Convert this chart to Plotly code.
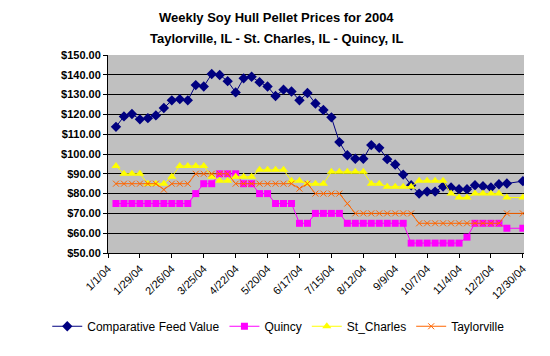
import pandas as pd
import plotly.graph_objects as go

# Weekly dates (data starts 1/8/04, axis starts 1/1/04)
dates = pd.date_range("2004-01-08", periods=52, freq="7D")

comparative_feed_value = [113.7, 119.0, 120.2, 117.5, 118.1, 119.5, 123.2, 127.1, 127.7, 127.1,
                          134.8, 134.1, 140.4, 139.9, 136.8, 131.1, 138.2, 139.0, 136.3, 134.1,
                          129.3, 132.5, 131.6, 127.1, 130.8, 125.5, 122.2, 118.5, 106.0, 99.4,
                          97.6, 97.6, 104.5, 103.1, 97.4, 94.7, 89.6, 84.2, 80.0, 81.0,
                          81.0, 83.6, 83.1, 82.2, 82.2, 84.2, 83.7, 83.1, 84.7, 85.1,
                          None, 86.3]
quincy = [75, 75, 75, 75, 75, 75, 75, 75, 75, 75,
          80, 85, 85, 90, 90, 90, 85, 85, 80, 80,
          75, 75, 75, 65, 65, 70, 70, 70, 70, 65,
          65, 65, 65, 65, 65, 65, 65, 55, 55, 55,
          55, 55, 55, 55, 58, 65, 65, 65, 65, 62.5,
          None, 62.5]
st_charles = [94, 90, 90, 90, 85, 85, 85, 88.5, 94, 94,
              94, 94, 88.5, 86.5, 86.5, 88.5, 88.5, 88.5, 92, 92,
              92, 92, 86.5, 86.5, 85, 85, 85, 91, 91, 91,
              91, 91, 85, 85, 83.5, 83.5, 83.5, 83.5, 86.5, 86.5,
              86.5, 86.5, 80, 78, 78, 80, 80, 80, 80, 78,
              None, 78]
taylorville = [85, 85, 85, 85, 85, 85, 82, 85, 85, 85,
               90, 90, 90, 90, 90, 85, 85, 85, 85, 85,
               85, 85, 85, 82.5, 85, 80, 80, 80, 80, 75,
               70, 70, 70, 70, 70, 70, 70, 70, 65, 65,
               65, 65, 65, 65, 65, 65, 65, 65, 65, 70,
               None, 70]

tick_dates = ["2004-01-01", "2004-01-29", "2004-02-26", "2004-03-25", "2004-04-22",
              "2004-05-20", "2004-06-17", "2004-07-15", "2004-08-12", "2004-09-09",
              "2004-10-07", "2004-11-04", "2004-12-02", "2004-12-30"]
tick_labels = ["1/1/04", "1/29/04", "2/26/04", "3/25/04", "4/22/04", "5/20/04", "6/17/04",
               "7/15/04", "8/12/04", "9/9/04", "10/7/04", "11/4/04", "12/2/04", "12/30/04"]

series = [
    ("Comparative Feed Value", comparative_feed_value, "#000080",
     dict(symbol="diamond", size=8, color="#000080")),
    ("Quincy", quincy, "#FF00FF",
     dict(symbol="square", size=7, color="#FF00FF")),
    ("St_Charles", st_charles, "#FFFF00",
     dict(symbol="triangle-up", size=8, color="#FFFF00")),
    ("Taylorville", taylorville, "#FF6600",
     dict(symbol="x-thin", size=6, color="#FF6600", line=dict(color="#FF6600", width=1))),
]

fig = go.Figure()
for name, vals, color, marker in series:
    fig.add_trace(go.Scatter(
        x=dates, y=vals, name=name, mode="lines+markers",
        line=dict(color=color, width=1), marker=marker, connectgaps=True,
    ))

SANS = "Liberation Sans, Arial, sans-serif"
AX_FONT = dict(family=SANS, size=11, color="black")

# page body has an 8px margin, so margins are reduced by 8 on left/top
fig.update_layout(
    width=550, height=356,
    margin=dict(l=100, r=34, t=47, b=111),
    paper_bgcolor="white", plot_bgcolor="#C0C0C0",
    showlegend=True,
    legend=dict(orientation="h", x=-0.146, xanchor="left", y=-0.37, yanchor="middle",
                font=dict(family=SANS, size=12, color="black"),
                itemwidth=30, tracegroupgap=0, bgcolor="rgba(0,0,0,0)"),
    annotations=[
        dict(text="<b>Weekly Soy Hull Pellet Prices for 2004</b>", xref="paper", yref="paper",
             x=0.405, y=1.19, xanchor="center", yanchor="middle", showarrow=False,
             font=dict(family=SANS, size=13, color="black")),
        dict(text="<b>Taylorville, IL - St. Charles, IL - Quincy, IL</b>", xref="paper", yref="paper",
             x=0.405, y=1.085, xanchor="center", yanchor="middle", showarrow=False,
             font=dict(family=SANS, size=13, color="black")),
    ],
)

fig.update_xaxes(
    range=["2004-01-01", "2004-12-31"], tickvals=tick_dates, ticktext=tick_labels,
    tickangle=-45, tickfont=AX_FONT, showgrid=False, zeroline=False,
    showline=True, linecolor="black", linewidth=1,
    ticks="outside", ticklen=4, tickcolor="black",
)
fig.update_yaxes(
    range=[50, 150], dtick=10, tickprefix="<b>", tickformat="$,.2f", ticksuffix="</b>",
    tickfont=dict(family=SANS, size=11, color="black"),
    showgrid=True, gridcolor="black", gridwidth=1, zeroline=False,
    showline=True, linecolor="black", linewidth=1,
    ticks="outside", ticklen=4, tickcolor="black",
)

fig.write_html("out.html")
